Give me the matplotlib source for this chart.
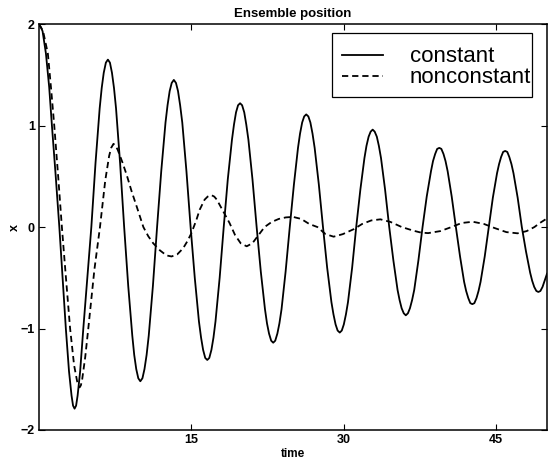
import matplotlib
matplotlib.use("Agg")
import matplotlib.pyplot as plt
from matplotlib.patches import Rectangle

# values
t_const = [0.0, 0.18, 0.35, 0.68, 1.0, 1.27, 1.63, 2.0, 2.32, 2.64, 2.95, 3.2, 3.35, 3.5,
           3.65, 3.8, 4.05, 4.36, 4.75, 5.15,
           5.56, 5.97, 6.17, 6.37, 6.58, 6.78, 6.98, 7.18, 7.38, 7.58, 7.98, 8.38,
           8.78, 9.18, 9.37, 9.57, 9.77, 9.97, 10.18, 10.38, 10.59, 10.8, 11.21, 11.62,
           12.03, 12.45, 12.65, 12.86, 13.06, 13.27, 13.48, 13.68, 13.89, 14.1, 14.51, 14.92,
           15.33, 15.74, 15.95, 16.15, 16.36, 16.56, 16.76, 16.97, 17.17, 17.37, 17.78, 18.18,
           18.58, 18.99, 19.19, 19.39, 19.59, 19.79, 19.99, 20.2, 20.4, 20.61, 21.01, 21.42,
           21.83, 22.24, 22.44, 22.64, 22.85, 23.05, 23.25, 23.46, 23.66, 23.87, 24.27, 24.68,
           25.09, 25.49, 25.69, 25.9, 26.1, 26.3, 26.51, 26.71, 26.92, 27.13, 27.54, 27.95,
           28.36, 28.78, 28.98, 29.19, 29.39, 29.6, 29.8, 30.0, 30.21, 30.41, 30.82, 31.22,
           31.63, 32.03, 32.23, 32.44, 32.64, 32.84, 33.04, 33.25, 33.45, 33.66, 34.06, 34.47,
           34.88, 35.29, 35.49, 35.69, 35.9, 36.1, 36.31, 36.51, 36.72, 36.93, 37.34, 37.75,
           38.16, 38.58, 38.78, 38.99, 39.19, 39.4, 39.6, 39.81, 40.01, 40.22, 40.62, 41.03,
           41.44, 41.84, 42.04, 42.25, 42.45, 42.65, 42.85, 43.06, 43.26, 43.46, 43.87, 44.27,
           44.67, 45.08, 45.28, 45.48, 45.68, 45.88, 46.09, 46.29, 46.5, 46.7, 47.11, 47.52,
           47.93, 48.34, 48.54, 48.74, 48.95, 49.15, 49.35, 49.56, 50.0]
x_const = [1.99, 1.97, 1.93, 1.71, 1.38, 1.0, 0.52, 0.0, -0.5, -1.0, -1.42, -1.66, -1.76, -1.79,
           -1.76, -1.66, -1.42, -1.0, -0.5, 0.0,
           0.63, 1.17, 1.37, 1.52, 1.62, 1.65, 1.62, 1.52, 1.37, 1.17, 0.63, 0.0,
           -0.58, -1.07, -1.26, -1.40, -1.49, -1.52, -1.49, -1.40, -1.26, -1.07, -0.58, 0.0,
           0.55, 1.03, 1.20, 1.34, 1.42, 1.45, 1.42, 1.34, 1.20, 1.03, 0.55, 0.0,
           -0.50, -0.93, -1.09, -1.21, -1.29, -1.31, -1.29, -1.21, -1.09, -0.93, -0.50, 0.0,
           0.47, 0.86, 1.01, 1.13, 1.20, 1.22, 1.20, 1.13, 1.01, 0.86, 0.47, 0.0,
           -0.44, -0.81, -0.95, -1.05, -1.12, -1.14, -1.12, -1.05, -0.95, -0.81, -0.44, 0.0,
           0.42, 0.78, 0.92, 1.03, 1.09, 1.11, 1.09, 1.03, 0.92, 0.78, 0.42, 0.0,
           -0.40, -0.74, -0.86, -0.96, -1.02, -1.04, -1.02, -0.96, -0.86, -0.74, -0.40, 0.0,
           0.37, 0.68, 0.80, 0.89, 0.94, 0.96, 0.94, 0.89, 0.80, 0.68, 0.37, 0.0,
           -0.33, -0.62, -0.72, -0.80, -0.85, -0.87, -0.85, -0.80, -0.72, -0.62, -0.33, 0.0,
           0.30, 0.55, 0.65, 0.72, 0.77, 0.78, 0.77, 0.72, 0.65, 0.55, 0.30, 0.0,
           -0.29, -0.54, -0.63, -0.70, -0.75, -0.76, -0.75, -0.70, -0.63, -0.54, -0.29, 0.0,
           0.29, 0.53, 0.62, 0.69, 0.74, 0.75, 0.74, 0.69, 0.62, 0.53, 0.29, 0.0,
           -0.24, -0.45, -0.53, -0.59, -0.63, -0.64, -0.63, -0.59, -0.46]

t_nonconst = [0.0, 0.4, 0.87, 1.2, 1.5, 1.9, 2.25, 2.65, 3.06, 3.45, 3.75, 3.88, 4.0,
              4.12, 4.25, 4.55, 4.85, 5.45, 6.0, 6.52, 6.9, 7.1, 7.33, 7.55, 7.75, 8.2,
              8.64, 9.12, 9.62, 10.27, 10.75, 11.24, 11.9, 12.55, 13.04, 13.6, 14.18,
              14.6, 15.0, 15.49, 15.81, 16.3, 16.6, 16.95, 17.25, 17.5, 18.1, 18.75,
              19.3, 19.85, 20.44, 21.0, 21.6, 22.2, 22.9, 23.6, 24.3, 25.0, 25.8, 26.6,
              27.4, 28.2, 29.0, 29.9, 31.0, 31.8, 32.7, 33.6, 34.6, 35.7, 36.85, 37.6,
              38.3, 39.5, 40.6, 41.6, 42.7, 43.8, 44.84, 46.0, 47.1, 48.0, 48.76,
              49.3, 50.0]
x_nonconst = [2.0, 1.93, 1.71, 1.35, 1.0, 0.48, 0.0, -0.5, -1.0, -1.36, -1.52, -1.56, -1.58,
              -1.56, -1.50, -1.28, -1.0, -0.42, 0.0, 0.46, 0.70, 0.78, 0.82, 0.80, 0.76, 0.64,
              0.51, 0.35, 0.20, 0.0, -0.09, -0.16, -0.23, -0.28, -0.29, -0.27, -0.21,
              -0.14, -0.06, 0.07, 0.17, 0.27, 0.30, 0.315, 0.30, 0.27, 0.16, 0.04,
              -0.08, -0.16, -0.19, -0.16, -0.08, 0.0, 0.05, 0.08, 0.095, 0.10, 0.08, 0.03,
              0.0, -0.07, -0.095, -0.07, -0.02, 0.03, 0.065, 0.076, 0.05, 0.0, -0.036, -0.055,
              -0.06, -0.04, 0.0, 0.04, 0.052, 0.03, -0.01, -0.05, -0.062, -0.04, 0.0,
              0.04, 0.085]

x_ticks = [15, 30, 45]
y_ticks = [-2, -1, 0, 1, 2]

plt.rcParams['font.family'] = ['Liberation Sans', 'DejaVu Sans']
plt.rcParams['lines.scale_dashes'] = False

fig = plt.figure(figsize=(5.48, 4.66), dpi=100)
ax = fig.add_axes([0.0712, 0.0773, 0.927, 0.871])

ax.plot(t_const, x_const, color='black', lw=1.3, label='constant',
        solid_joinstyle='round')
ax.plot(t_nonconst, x_nonconst, color='black', lw=1.3, dashes=(4.5, 2.8),
        label='nonconstant')

ax.set_xlim(0, 50)
ax.set_ylim(-2, 2)
ax.set_xticks(x_ticks)
ax.set_yticks(y_ticks)
ax.tick_params(direction='in', length=4, width=0.8, top=True, right=True,
               labelsize=9, pad=3)
for lab in ax.get_xticklabels() + ax.get_yticklabels():
    lab.set_fontweight('bold')
for sp in ax.spines.values():
    sp.set_linewidth(1.1)

ax.set_title('Ensemble position', fontsize=9.5, fontweight='bold', pad=5)
ax.set_xlabel('time', fontsize=8.5, fontweight='bold', labelpad=1)
ax.set_ylabel('x', fontsize=9, fontweight='bold', labelpad=0)

# legend: box drawn separately so the text can sit against its right edge (matlab style)
box = Rectangle((0.577, 0.820), 0.393, 0.158, transform=ax.transAxes,
                facecolor='white', edgecolor='black', lw=0.9, zorder=4)
ax.add_patch(box)
leg = ax.legend(loc='upper right', bbox_to_anchor=(0.9685, 0.945), borderaxespad=0,
                fontsize=16, frameon=False, handlelength=1.85, handletextpad=1.2,
                labelspacing=0.0, borderpad=0.0)
leg.set_zorder(5)

fig.savefig('out.png', dpi=100)
